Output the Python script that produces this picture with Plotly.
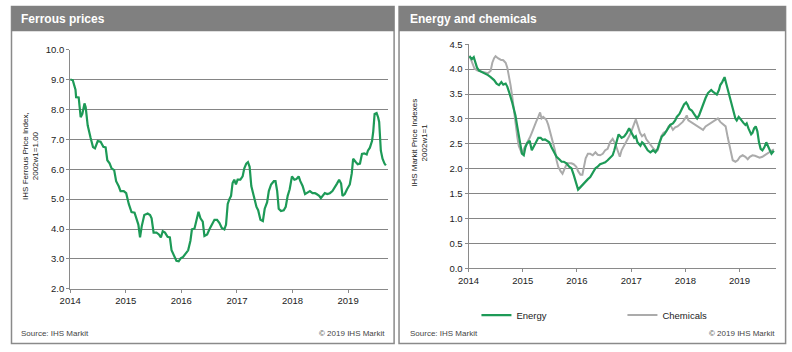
import plotly.graph_objects as go

# ---------------- data ----------------
ferrous_dates = [
    "2014-01-01", "2014-01-18", "2014-02-05", "2014-02-09", "2014-02-26", "2014-03-05", "2014-03-11",
    "2014-03-22", "2014-04-05", "2014-04-13", "2014-04-26", "2014-05-15", "2014-05-31", "2014-06-13",
    "2014-07-01", "2014-07-20", "2014-08-07", "2014-08-22", "2014-09-02", "2014-09-17", "2014-09-30",
    "2014-10-17", "2014-10-30", "2014-11-16", "2014-11-28", "2014-12-19", "2015-01-04", "2015-01-21",
    "2015-02-08", "2015-02-28", "2015-03-14", "2015-03-25", "2015-04-05", "2015-04-16", "2015-05-03",
    "2015-05-25", "2015-06-10", "2015-06-20", "2015-07-03", "2015-07-22", "2015-08-07", "2015-08-20",
    "2015-09-01", "2015-09-16", "2015-10-03", "2015-10-18", "2015-10-29", "2015-11-15", "2015-11-30",
    "2015-12-15", "2015-12-28", "2016-01-13", "2016-01-29", "2016-02-15", "2016-03-01", "2016-03-11",
    "2016-03-28", "2016-04-08", "2016-04-23", "2016-05-06", "2016-05-21", "2016-06-01", "2016-06-19",
    "2016-07-04", "2016-07-19", "2016-08-06", "2016-08-23", "2016-09-08", "2016-09-23", "2016-10-10",
    "2016-10-21", "2016-11-01", "2016-11-12", "2016-11-23", "2016-12-03", "2016-12-14", "2016-12-25",
    "2017-01-05", "2017-01-23", "2017-02-07", "2017-02-18", "2017-03-03", "2017-03-14", "2017-03-25",
    "2017-04-05", "2017-04-22", "2017-05-09", "2017-05-20", "2017-06-04", "2017-06-20", "2017-07-02",
    "2017-07-18", "2017-07-29", "2017-08-13", "2017-08-31", "2017-09-11", "2017-09-22", "2017-10-02",
    "2017-10-17", "2017-11-04", "2017-11-17", "2017-11-30", "2017-12-13", "2017-12-28", "2018-01-13",
    "2018-01-26", "2018-02-10", "2018-02-21", "2018-03-08", "2018-03-24", "2018-04-08", "2018-04-25",
    "2018-05-12", "2018-05-28", "2018-06-08", "2018-06-25", "2018-07-06", "2018-07-21", "2018-08-01",
    "2018-08-17", "2018-09-03", "2018-09-20", "2018-10-05", "2018-10-20", "2018-11-03", "2018-11-16",
    "2018-11-25", "2018-12-10", "2018-12-25", "2019-01-12", "2019-01-25", "2019-02-03", "2019-02-20",
    "2019-03-05", "2019-03-20", "2019-04-02", "2019-04-17", "2019-05-03", "2019-05-11", "2019-05-24",
    "2019-06-07", "2019-06-15", "2019-06-24", "2019-07-07", "2019-07-17", "2019-07-24", "2019-08-04",
    "2019-08-15", "2019-08-28", "2019-09-06",
]
ferrous_values = [
    9.00, 8.98, 8.66, 8.41, 8.40, 8.00, 7.74,
    7.85, 8.20, 8.07, 7.47, 7.05, 6.74, 6.70,
    6.94, 6.92, 6.75, 6.73, 6.30, 6.20, 6.03,
    5.97, 5.60, 5.43, 5.27, 5.27, 5.20, 4.84,
    4.57, 4.55, 4.36, 4.15, 3.72, 4.09, 4.47,
    4.52, 4.47, 4.36, 3.88, 3.88, 3.82, 3.72,
    3.93, 3.88, 3.74, 3.72, 3.29, 3.13, 2.94,
    2.92, 3.02, 3.07, 3.18, 3.29, 3.61, 3.99,
    4.02, 4.25, 4.58, 4.36, 4.25, 3.77, 3.82,
    3.99, 4.15, 4.31, 4.31, 4.20, 4.04, 3.99,
    4.15, 4.84, 5.00, 5.11, 5.54, 5.65, 5.49,
    5.65, 5.65, 5.76, 6.03, 6.19, 6.24, 6.08,
    5.44, 5.06, 4.74, 4.63, 4.31, 4.27, 4.68,
    4.90, 5.27, 5.49, 5.60, 5.60, 5.27, 4.68,
    4.60, 4.63, 4.74, 5.11, 5.33, 5.76, 5.65,
    5.67, 5.76, 5.60, 5.44, 5.17, 5.22, 5.27,
    5.20, 5.20, 5.17, 5.11, 5.03, 5.11, 5.20,
    5.17, 5.20, 5.27, 5.38, 5.52, 5.65, 5.52,
    5.11, 5.17, 5.33, 5.49, 5.86, 6.35, 6.24,
    6.17, 6.19, 6.51, 6.53, 6.49, 6.62, 6.72,
    6.94, 7.26, 7.85, 7.88, 7.74, 7.58, 6.62,
    6.35, 6.19, 6.13,
]

energy_dates = [
    "2014-01-07", "2014-01-23", "2014-02-05", "2014-02-27", "2014-03-13", "2014-04-04", "2014-04-26",
    "2014-05-12", "2014-05-30", "2014-06-22", "2014-07-09", "2014-07-25", "2014-08-10", "2014-08-23",
    "2014-09-08", "2014-09-19", "2014-09-30", "2014-10-11", "2014-10-22", "2014-11-02", "2014-11-13",
    "2014-11-25", "2014-12-05", "2014-12-16", "2014-12-27", "2015-01-08", "2015-01-19", "2015-01-30",
    "2015-02-17", "2015-03-03", "2015-03-18", "2015-04-01", "2015-04-16", "2015-05-02", "2015-05-15",
    "2015-05-31", "2015-06-16", "2015-06-29", "2015-07-14", "2015-07-30", "2015-08-17", "2015-09-04",
    "2015-09-20", "2015-10-05", "2015-10-23", "2015-11-10", "2015-11-25", "2015-12-10", "2015-12-24",
    "2016-01-09", "2016-01-25", "2016-02-11", "2016-02-29", "2016-03-15", "2016-03-31", "2016-04-17",
    "2016-05-05", "2016-05-20", "2016-06-05", "2016-06-23", "2016-07-10", "2016-07-26", "2016-08-11",
    "2016-08-29", "2016-09-09", "2016-09-25", "2016-10-08", "2016-10-28", "2016-11-15", "2016-12-02",
    "2016-12-18", "2016-12-29", "2017-01-10", "2017-01-21", "2017-02-01", "2017-02-12", "2017-03-04",
    "2017-03-15", "2017-03-26", "2017-04-07", "2017-04-22", "2017-05-10", "2017-05-28", "2017-06-13",
    "2017-06-28", "2017-07-11", "2017-07-27", "2017-08-12", "2017-08-25", "2017-09-10", "2017-09-21",
    "2017-10-09", "2017-10-24", "2017-11-04", "2017-11-22", "2017-12-08", "2017-12-23", "2018-01-06",
    "2018-01-15", "2018-01-28", "2018-02-13", "2018-02-28", "2018-03-12", "2018-03-21", "2018-04-03",
    "2018-04-19", "2018-05-04", "2018-05-17", "2018-06-02", "2018-06-13", "2018-06-24", "2018-07-05",
    "2018-07-16", "2018-08-01", "2018-08-15", "2018-08-24", "2018-09-06", "2018-09-22", "2018-10-03",
    "2018-10-14", "2018-10-29", "2018-11-12", "2018-11-21", "2018-12-04", "2018-12-13", "2018-12-26",
    "2019-01-04", "2019-01-18", "2019-01-27", "2019-02-09", "2019-02-18", "2019-03-02", "2019-03-11",
    "2019-03-20", "2019-03-29", "2019-04-09", "2019-04-20", "2019-05-01", "2019-05-12", "2019-05-23",
    "2019-06-04", "2019-06-17", "2019-06-30", "2019-07-13", "2019-07-24", "2019-08-04", "2019-08-20",
]
energy_values = [
    4.26, 4.20, 4.24, 4.03, 3.97, 3.94, 3.90,
    3.88, 3.84, 3.78, 3.71, 3.68, 3.74, 3.69,
    3.71, 3.65, 3.55, 3.46, 3.33, 3.20, 3.07,
    2.85, 2.65, 2.46, 2.30, 2.27, 2.43, 2.51,
    2.56, 2.37, 2.46, 2.53, 2.62, 2.62, 2.58,
    2.59, 2.56, 2.53, 2.43, 2.33, 2.24, 2.19,
    2.14, 2.14, 2.11, 2.04, 2.01, 1.88, 1.72,
    1.58, 1.63, 1.69, 1.76, 1.79, 1.83, 1.92,
    2.01, 2.04, 2.09, 2.11, 2.13, 2.17, 2.21,
    2.27, 2.37, 2.53, 2.69, 2.62, 2.65, 2.72,
    2.81, 2.75, 2.69, 2.62, 2.65, 2.53, 2.46,
    2.53, 2.50, 2.43, 2.37, 2.33, 2.37, 2.33,
    2.40, 2.53, 2.65, 2.69, 2.75, 2.81, 2.88,
    2.91, 2.97, 3.04, 3.10, 3.20, 3.29, 3.33,
    3.29, 3.20, 3.17, 3.10, 3.04, 3.01, 3.07,
    3.20, 3.33, 3.42, 3.52, 3.55, 3.58, 3.55,
    3.52, 3.49, 3.58, 3.68, 3.74, 3.84, 3.71,
    3.58, 3.46, 3.29, 3.17, 3.01, 2.97, 3.04,
    3.01, 2.94, 2.92, 2.88, 2.91, 2.81, 2.75,
    2.69, 2.72, 2.81, 2.85, 2.75, 2.53, 2.40,
    2.37, 2.43, 2.53, 2.46, 2.37, 2.30, 2.36,
]

chemicals_dates = [
    "2014-01-07", "2014-01-23", "2014-02-10", "2014-03-02", "2014-03-24", "2014-04-16", "2014-05-12",
    "2014-05-30", "2014-06-10", "2014-06-22", "2014-07-02", "2014-07-18", "2014-08-05", "2014-08-23",
    "2014-09-08", "2014-09-19", "2014-09-30", "2014-10-11", "2014-10-22", "2014-11-02", "2014-11-13",
    "2014-11-25", "2014-12-05", "2014-12-16", "2014-12-27", "2015-01-08", "2015-01-19", "2015-02-04",
    "2015-02-17", "2015-03-03", "2015-03-18", "2015-04-01", "2015-04-16", "2015-04-28", "2015-05-08",
    "2015-05-19", "2015-05-31", "2015-06-11", "2015-06-22", "2015-07-03", "2015-07-14", "2015-07-25",
    "2015-08-06", "2015-08-17", "2015-08-28", "2015-09-13", "2015-09-26", "2015-10-12", "2015-10-27",
    "2015-11-10", "2015-11-25", "2015-12-10", "2015-12-28", "2016-01-09", "2016-01-25", "2016-02-07",
    "2016-02-16", "2016-02-29", "2016-03-15", "2016-03-31", "2016-04-17", "2016-05-05", "2016-05-20",
    "2016-06-05", "2016-06-23", "2016-07-10", "2016-07-26", "2016-08-11", "2016-08-29", "2016-09-16",
    "2016-10-01", "2016-10-16", "2016-10-28", "2016-11-15", "2016-12-02", "2016-12-18", "2017-01-02",
    "2017-01-16", "2017-02-01", "2017-02-16", "2017-03-01", "2017-03-15", "2017-03-31", "2017-04-13",
    "2017-04-29", "2017-05-14", "2017-06-01", "2017-06-19", "2017-06-28", "2017-07-11", "2017-07-22",
    "2017-08-07", "2017-08-25", "2017-09-10", "2017-09-21", "2017-10-09", "2017-10-24", "2017-11-09",
    "2017-11-27", "2017-12-14", "2017-12-30", "2018-01-10", "2018-01-21", "2018-02-06", "2018-02-24",
    "2018-03-12", "2018-03-27", "2018-04-12", "2018-04-30", "2018-05-17", "2018-06-02", "2018-06-17",
    "2018-07-05", "2018-07-23", "2018-08-08", "2018-08-24", "2018-09-11", "2018-09-29", "2018-10-14",
    "2018-10-25", "2018-11-05", "2018-11-16", "2018-12-04", "2018-12-19", "2019-01-04", "2019-01-22",
    "2019-02-09", "2019-02-25", "2019-03-11", "2019-03-29", "2019-04-15", "2019-05-01", "2019-05-16",
    "2019-06-04", "2019-06-21", "2019-07-06", "2019-07-22", "2019-08-09", "2019-08-20",
]
chemicals_values = [
    4.27, 4.13, 4.01, 3.97, 3.95, 3.94, 3.92,
    3.97, 4.13, 4.22, 4.26, 4.22, 4.19, 4.18,
    4.13, 4.03, 3.87, 3.68, 3.46, 3.17, 2.91,
    2.65, 2.46, 2.37, 2.30, 2.40, 2.46, 2.53,
    2.62, 2.72, 2.85, 2.94, 3.04, 3.13, 3.01,
    3.04, 3.01, 2.97, 2.88, 2.76, 2.62, 2.49,
    2.37, 2.17, 2.04, 1.95, 1.90, 2.01, 2.11,
    2.11, 2.11, 2.09, 2.04, 1.95, 1.88, 1.88,
    2.01, 2.21, 2.30, 2.30, 2.27, 2.33, 2.28,
    2.27, 2.30, 2.37, 2.40, 2.53, 2.60, 2.50,
    2.37, 2.24, 2.37, 2.46, 2.56, 2.65, 2.75,
    2.85, 2.99, 2.85, 2.72, 2.65, 2.69, 2.59,
    2.53, 2.46, 2.40, 2.35, 2.37, 2.49, 2.65,
    2.72, 2.75, 2.85, 2.88, 2.78, 2.83, 2.85,
    2.90, 2.94, 3.01, 3.07, 2.97, 2.94, 2.91,
    2.88, 2.85, 2.81, 2.78, 2.85, 2.88, 2.91,
    2.94, 2.97, 3.01, 2.94, 2.90, 2.85, 2.62,
    2.46, 2.27, 2.17, 2.14, 2.17, 2.24, 2.27,
    2.24, 2.19, 2.24, 2.27, 2.26, 2.24, 2.22,
    2.24, 2.27, 2.30, 2.33, 2.37, 2.39,
]

left_title = "Ferrous prices"
right_title = "Energy and chemicals"
left_ytitle = "IHS Ferrous Price Index,<br>2002w1=1.00"
right_ytitle = "IHS Markit Price Indexes<br>2002w1=1"
source_text = "Source: IHS Markit"
copyright_text = "© 2019 IHS Markit"

# ---------------- layout helpers ----------------
W, H = 792, 352
FONT = "Liberation Sans, Arial, sans-serif"
GREEN = "#1d9a57"
GREYLINE = "#ababab"
FRAME = "#8a8a8a"
GRID = "#858585"


def px(x):
    return x / W


def py(y):
    return 1 - y / H


fig = go.Figure()
fig.add_trace(go.Scatter(x=ferrous_dates, y=ferrous_values, mode="lines",
                         line=dict(color=GREEN, width=2.2), showlegend=False,
                         xaxis="x", yaxis="y", hoverinfo="skip"))
fig.add_trace(go.Scatter(x=chemicals_dates, y=chemicals_values, mode="lines", name="Chemicals",
                         line=dict(color=GREYLINE, width=2), legendrank=2,
                         xaxis="x2", yaxis="y2", hoverinfo="skip"))
fig.add_trace(go.Scatter(x=energy_dates, y=energy_values, mode="lines", name="Energy",
                         line=dict(color=GREEN, width=2.2), legendrank=1,
                         xaxis="x2", yaxis="y2", hoverinfo="skip"))

tickfont = dict(family=FONT, size=9.5, color="#222222")

common_x = dict(type="date", tick0="2014-01-01", dtick="M12", tickformat="%Y",
                showline=True, linecolor=FRAME, linewidth=1, ticks="outside", ticklen=3,
                tickcolor=FRAME, showgrid=False, zeroline=False, tickfont=tickfont)
common_y = dict(showline=True, linecolor=FRAME, linewidth=1, ticks="outside", ticklen=3,
                tickcolor=FRAME, showgrid=True, gridcolor=GRID, gridwidth=1,
                zeroline=False, tickfont=tickfont, tickformat=".1f")

fig.update_layout(
    width=W, height=H,
    margin=dict(l=0, r=0, t=0, b=0),
    paper_bgcolor="white", plot_bgcolor="rgba(0,0,0,0)",
    font=dict(family=FONT, color="#222222"),
    xaxis=dict(domain=[px(60), px(382)], range=["2014-01-01", "2019-09-18"], anchor="y", **common_x),
    yaxis=dict(domain=[py(292), py(45)], range=[2, 10], dtick=1, anchor="x", **common_y),
    xaxis2=dict(domain=[px(464), px(776)], range=["2014-01-01", "2019-09-05"], anchor="y2", **common_x),
    yaxis2=dict(domain=[py(270.7), py(39.5)], range=[0, 4.5], dtick=0.5, anchor="x2", **common_y),
    showlegend=True,
    legend=dict(orientation="h", x=px(472), xanchor="left", y=py(319), yanchor="middle",
                font=dict(family=FONT, size=9.5, color="#222222"),
                entrywidth=101, entrywidthmode="pixels", bgcolor="rgba(0,0,0,0)"),
)

shapes = []
# panel frames
for (x0, x1) in [(0.5, 388.5), (393.5, 785.5)]:
    shapes.append(dict(type="rect", xref="paper", yref="paper",
                       x0=px(x0), x1=px(x1), y0=py(348.5), y1=py(0.5),
                       line=dict(color=FRAME, width=1.5), fillcolor="rgba(0,0,0,0)", layer="below"))
    shapes.append(dict(type="rect", xref="paper", yref="paper",
                       x0=px(x0), x1=px(x1), y0=py(26), y1=py(0),
                       line=dict(width=0), fillcolor="#808080", layer="below"))
fig.update_layout(shapes=shapes)

ann = []
ann.append(dict(text="<b>%s</b>" % left_title, x=px(8), y=py(13), xref="paper", yref="paper",
                xanchor="left", yanchor="middle", showarrow=False,
                font=dict(family=FONT, size=12, color="white")))
ann.append(dict(text="<b>%s</b>" % right_title, x=px(403), y=py(13), xref="paper", yref="paper",
                xanchor="left", yanchor="middle", showarrow=False,
                font=dict(family=FONT, size=12, color="white")))
ann.append(dict(text=left_ytitle, x=px(19), y=py(155), xref="paper", yref="paper",
                xanchor="center", yanchor="middle", showarrow=False, textangle=-90,
                font=dict(family=FONT, size=8, color="#222222")))
ann.append(dict(text=right_ytitle, x=px(414), y=py(141), xref="paper", yref="paper",
                xanchor="center", yanchor="middle", showarrow=False, textangle=-90,
                font=dict(family=FONT, size=8, color="#222222")))
for (xl, xr) in [(8, 381), (403, 777)]:
    ann.append(dict(text=source_text, x=px(xl), y=py(338), xref="paper", yref="paper",
                    xanchor="left", yanchor="middle", showarrow=False,
                    font=dict(family=FONT, size=8, color="#444444")))
    ann.append(dict(text=copyright_text, x=px(xr), y=py(338), xref="paper", yref="paper",
                    xanchor="right", yanchor="middle", showarrow=False,
                    font=dict(family=FONT, size=8, color="#444444")))
fig.update_layout(annotations=ann)

fig.write_html("out.html")
